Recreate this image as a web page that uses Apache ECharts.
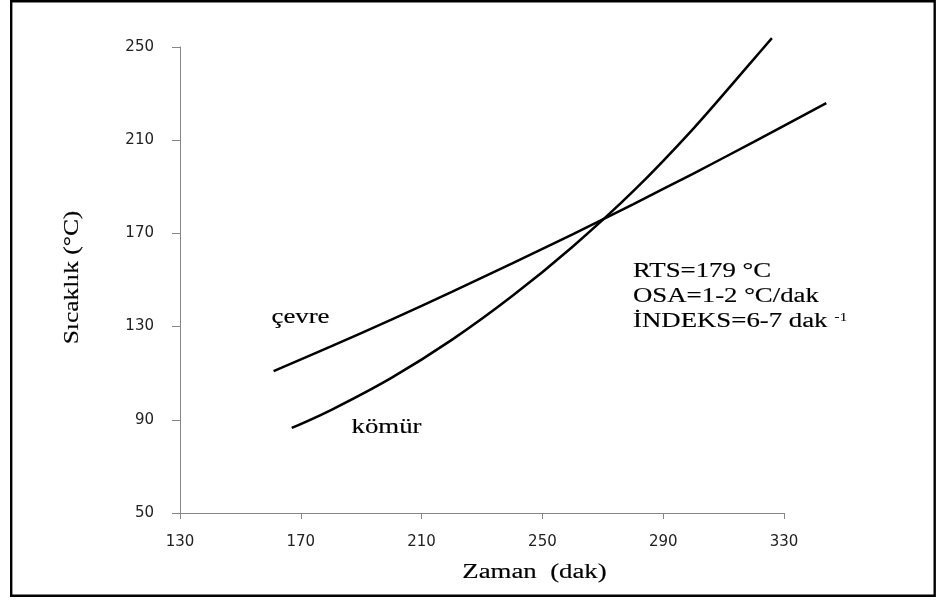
<!DOCTYPE html>
<html>
<head>
<meta charset="utf-8">
<script src="https://cdn.jsdelivr.net/npm/echarts@6/dist/echarts.min.js"></script>
<style>
  html, body { margin: 0; padding: 0; background: #fff; }
  #chart { width: 938px; height: 601px; }
</style>
</head>
<body>
<div id="chart"></div>
<script>
// Axis ticks
const timeTicks = [130, 170, 210, 250, 290, 330];
const tempTicks = [50, 90, 130, 170, 210, 250];
// the time scale runs a little past its last tick so the ambient curve fits
const timeScaleEnd = 345;

// Ambient (çevre) temperature over time
const cevreTime = [161, 180, 200, 220, 240, 260, 280, 300, 320, 344];
const cevreTemp = [110.9, 121.5, 133.0, 144.9, 157.1, 169.6, 182.5, 195.7, 209.3, 225.9];

// Coal (kömür) temperature over time
const komurTime = [167, 180, 200, 220, 240, 260, 280, 300, 320, 326];
const komurTemp = [86.5, 94.2, 108.0, 124.3, 143.1, 164.3, 188.0, 215.0, 244.8, 253.8];

// Result notes shown beside the curves
const notes = ['RTS=179 °C', 'OSA=1-2 °C/dak'];
const indexNote = 'İNDEKS=6-7 dak ';
const indexUnitExp = '-1';

const pairs = (xs, ys) => xs.map((x, i) => [x, ys[i]]);

const serif = '"Liberation Serif", "Times New Roman", serif';
const sans = '"DejaVu Sans", Verdana, sans-serif';
const wide = 1.34; // the serif captions are set wide
const axisGrey = '#868686';
const inkWidth = 0.15;

const chart = echarts.init(document.getElementById('chart'), null, { renderer: 'canvas' });

function caption(x, y, text, extra) {
  return Object.assign({
    type: 'text', x: x, y: y, scaleX: wide, silent: true,
    style: {
      text: text, font: '20px ' + serif, fill: '#000',
      stroke: '#000', lineWidth: inkWidth,
      align: 'left', verticalAlign: 'middle'
    }
  }, extra || {});
}

function centred(el) {
  el.style.align = 'center';
  return el;
}

chart.setOption({
  animation: false,
  backgroundColor: '#ffffff',
  grid: { left: 180, right: 108.7, top: 47, bottom: 88 },
  xAxis: {
    type: 'value',
    min: timeTicks[0],
    max: timeScaleEnd,
    splitLine: { show: false },
    axisLine: { show: false },
    axisTick: { show: true, length: 6, lineStyle: { color: axisGrey }, customValues: timeTicks },
    axisLabel: { customValues: timeTicks, margin: 22, fontFamily: sans, fontSize: 15, color: '#222' }
  },
  yAxis: {
    type: 'value',
    min: tempTicks[0],
    max: tempTicks[tempTicks.length - 1],
    splitLine: { show: false },
    axisLine: { show: true, lineStyle: { color: axisGrey, width: 1 } },
    axisTick: { show: true, length: 8, lineStyle: { color: axisGrey }, customValues: tempTicks },
    axisLabel: { customValues: tempTicks, margin: 26, fontFamily: sans, fontSize: 15, color: '#222' }
  },
  series: [
    {
      name: 'çevre',
      type: 'line',
      data: pairs(cevreTime, cevreTemp),
      smooth: 0.3,
      symbol: 'none',
      clip: false,
      lineStyle: { color: '#000', width: 2.5 },
      // time axis line, spanning the ticked range only
      markLine: {
        silent: true,
        symbol: 'none',
        label: { show: false },
        lineStyle: { color: axisGrey, width: 1, type: 'solid' },
        data: [[
          { coord: [timeTicks[0], tempTicks[0]] },
          { coord: [timeTicks[timeTicks.length - 1], tempTicks[0]] }
        ]]
      }
    },
    {
      name: 'kömür',
      type: 'line',
      data: pairs(komurTime, komurTemp),
      smooth: 0.3,
      symbol: 'none',
      clip: false,
      lineStyle: { color: '#000', width: 2.5 }
    }
  ],
  graphic: [
    // outer frame
    {
      type: 'rect', silent: true,
      shape: { x: 11.2, y: 1.2, width: 923.5, height: 594.5 },
      style: { fill: 'none', stroke: '#000', lineWidth: 2.4 }
    },
    // axis titles
    centred(caption(534.5, 573, 'Zaman  (dak)')),
    centred(caption(73, 277.5, 'Sıcaklık (°C)', { rotation: Math.PI / 2, scaleX: 1.27 })),
    // curve names
    caption(271.5, 318, 'çevre'),
    caption(351.5, 428, 'kömür'),
    // result notes
    caption(633, 271.5, notes[0]),
    caption(633, 296.5, notes[1]),
    {
      type: 'text', x: 633, y: 321.5, scaleX: wide, silent: true,
      style: {
        text: '{m|' + indexNote + '}{s|' + indexUnitExp + '}',
        align: 'left', verticalAlign: 'middle',
        rich: {
          m: { font: '20px ' + serif, fill: '#000', stroke: '#000', lineWidth: inkWidth },
          s: { font: '12px ' + serif, fill: '#000', verticalAlign: 'top', padding: [0, 0, 8, 0] }
        }
      }
    }
  ]
});
</script>
</body>
</html>
